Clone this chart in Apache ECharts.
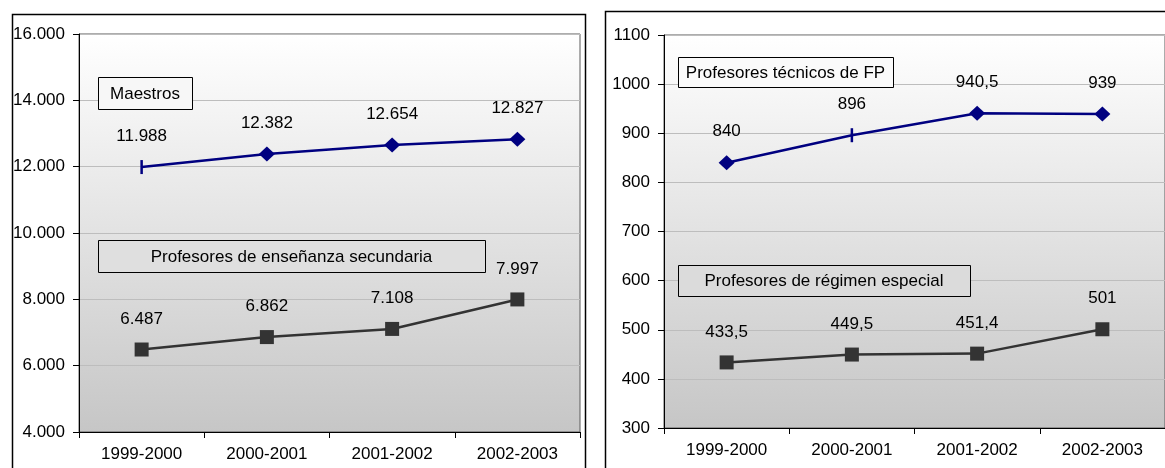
<!DOCTYPE html>
<html>
<head>
<meta charset="utf-8">
<script src="https://cdn.jsdelivr.net/npm/echarts@6/dist/echarts.min.js"></script>
<style>
html,body{margin:0;padding:0;background:#fff;}
#c{width:1165px;height:468px;}
</style>
</head>
<body>
<div id="c"></div>
<script>
const categories = ['1999-2000', '2000-2001', '2001-2002', '2002-2003'];
const maestros = [11988, 12382, 12654, 12827];
const secundaria = [6487, 6862, 7108, 7997];
const tecnicosFP = [840, 896, 940.5, 939];
const regimenEspecial = [433.5, 449.5, 451.4, 501];
const leftTicks = { min: 4000, max: 16000, interval: 2000 };
const rightTicks = { min: 300, max: 1100, interval: 100 };
const names = {
  maestros: 'Maestros',
  secundaria: 'Profesores de enseñanza secundaria',
  fp: 'Profesores técnicos de FP',
  regimen: 'Profesores de régimen especial'
};
// index of points drawn with a vertical bar marker in the original
const barMarkerMaestros = 0;
const barMarkerFP = 1;

const FONT = '"Liberation Sans", Arial, sans-serif';
const FS = 17;
const fmtDot = v => String(Math.round(v)).replace(/\B(?=(\d{3})+(?!\d))/g, '.');
const fmtComma = v => String(v).replace('.', ',');

const TOP_C = 255, BOT_C = 198;
const bg = {
  type: 'linear', x: 0, y: 0, x2: 0, y2: 1,
  colorStops: [{ offset: 0, color: 'rgb(255,255,255)' }, { offset: 1, color: 'rgb(198,198,198)' }]
};
function bgAt(y, top, h) {
  const t = Math.max(0, Math.min(1, (y - top) / h));
  const c = Math.round(TOP_C - t * (TOP_C - BOT_C));
  return 'rgb(' + c + ',' + c + ',' + c + ')';
}

const G0 = { l: 79, t: 34, w: 501, h: 398 };
const G1 = { l: 664, t: 35, w: 516, h: 393 };

function gridDef(g) {
  return { left: g.l, top: g.t, width: g.w, height: g.h, show: true, backgroundColor: bg,
    borderColor: '#5a5a5a', borderWidth: 1, containLabel: false };
}
function xAxisDef(i) {
  return {
    type: 'category', gridIndex: i, data: categories, boundaryGap: true,
    axisLine: { lineStyle: { color: '#000', width: 1 } },
    axisTick: { show: true, inside: false, length: 6, alignWithLabel: false, lineStyle: { color: '#000' } },
    axisLabel: { color: '#000', fontFamily: FONT, fontSize: FS, margin: 14 },
    splitLine: { show: false }
  };
}
function yAxisDef(i, t, fmt) {
  return {
    type: 'value', gridIndex: i, min: t.min, max: t.max, interval: t.interval,
    axisLine: { show: true, lineStyle: { color: '#000', width: 1 } },
    axisTick: { show: true, inside: false, length: 6, lineStyle: { color: '#000' } },
    axisLabel: { color: '#000', fontFamily: FONT, fontSize: FS, margin: 14, formatter: fmt },
    splitLine: { show: true, lineStyle: { color: '#bdbdbd', width: 1 } }
  };
}
function seriesDef(name, vals, ax, color, symbol, fmt, barIdx) {
  return {
    name: name, type: 'line', xAxisIndex: ax, yAxisIndex: ax,
    data: vals.map((v, i) => i === barIdx
      ? { value: v, symbol: 'rect', symbolSize: [2.5, 14] }
      : { value: v }),
    symbol: symbol, symbolSize: symbol === 'diamond' ? [16, 15] : 14,
    lineStyle: { color: color, width: 2.5 },
    itemStyle: { color: color },
    label: { show: true, position: 'top', distance: 15, color: '#000', fontFamily: FONT, fontSize: FS,
      formatter: p => fmt(p.value) },
    animation: false, z: 3
  };
}
function box(x, y, w, h, text, g) {
  return [
    { type: 'rect', left: x, top: y, z: 100, silent: true,
      shape: { width: w, height: h },
      style: { fill: bgAt(y + h / 2, g.t, g.h), stroke: '#000', lineWidth: 1 } },
    { type: 'text', x: x + w / 2, y: y + h / 2 + 1, z: 101, silent: true,
      style: { text: text, fill: '#000', font: FS + 'px ' + FONT, align: 'center', verticalAlign: 'middle' } }
  ];
}

const chart = echarts.init(document.getElementById('c'), null, { renderer: 'canvas' });
chart.setOption({
  animation: false,
  backgroundColor: '#fff',
  grid: [gridDef(G0), gridDef(G1)],
  xAxis: [xAxisDef(0), xAxisDef(1)],
  yAxis: [yAxisDef(0, leftTicks, fmtDot), yAxisDef(1, rightTicks, v => String(v))],
  series: [
    seriesDef(names.maestros, maestros, 0, '#000080', 'diamond', fmtDot, barMarkerMaestros),
    seriesDef(names.secundaria, secundaria, 0, '#333333', 'rect', fmtDot, -1),
    seriesDef(names.fp, tecnicosFP, 1, '#000080', 'diamond', fmtComma, barMarkerFP),
    seriesDef(names.regimen, regimenEspecial, 1, '#333333', 'rect', fmtComma, -1)
  ],
  graphic: [
    { type: 'rect', left: 10, top: 12, z: 0, silent: true,
      shape: { width: 573, height: 480 }, style: { fill: 'none', stroke: '#000', lineWidth: 1.5 } },
    { type: 'rect', left: 603, top: 9, z: 0, silent: true,
      shape: { width: 600, height: 480 }, style: { fill: 'none', stroke: '#000', lineWidth: 1.5 } }
  ].concat(
    box(98, 77, 94, 32, names.maestros, G0),
    box(98, 240, 387, 32, names.secundaria, G0),
    box(678, 57, 215, 30, names.fp, G1),
    box(678, 265, 292, 31, names.regimen, G1)
  )
});
</script>
</body>
</html>
